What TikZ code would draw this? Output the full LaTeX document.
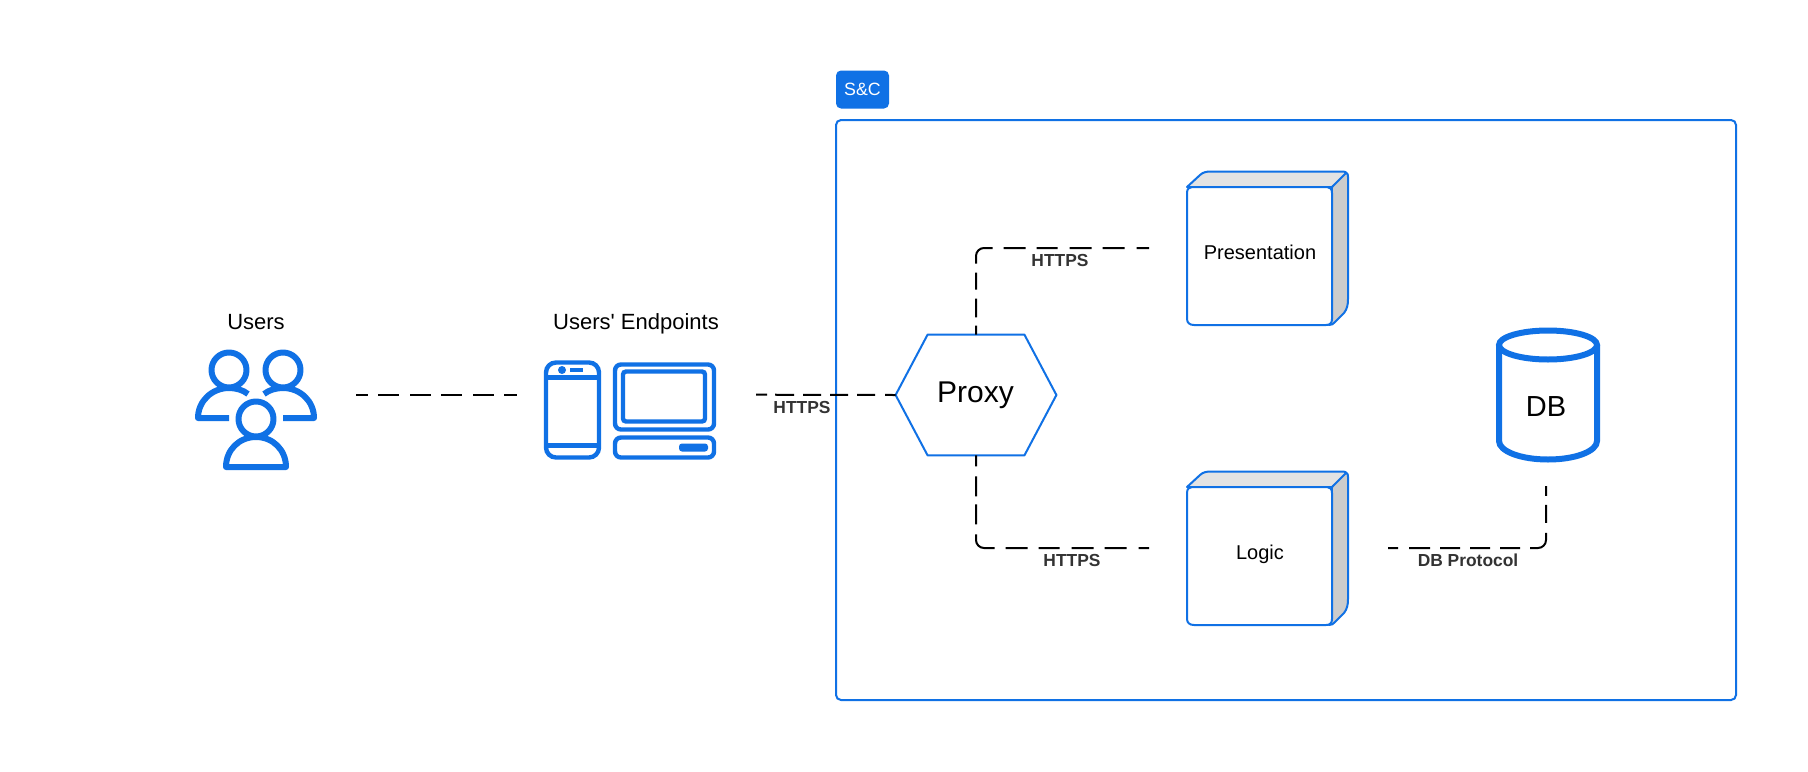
\documentclass[tikz,border=0pt]{standalone}
\usepackage{fontspec}
\setmainfont{Liberation Sans}[Ligatures=TeXOff]
\usetikzlibrary{calc}
\definecolor{lucid}{HTML}{1071E5}
\definecolor{labelgrey}{HTML}{333333}
\definecolor{topface}{HTML}{E3E3E3}
\definecolor{sideface}{HTML}{CCCCCC}
\tikzset{
  bluethin/.style={draw=lucid,line width=1pt,line join=round},
  iconline/.style={draw=lucid,line width=3pt,line join=round},
  devline/.style={draw=lucid,line width=2.2pt,rounded corners=3pt},
  conn/.style={draw=black,line width=1pt,rounded corners=4pt},
  title/.style={inner sep=0pt,font=\fontsize{11}{13}\selectfont},
  plain/.style={inner sep=0pt,font=\fontsize{10}{12}\selectfont},
  wire/.style={inner sep=0pt,text=labelgrey,font=\bfseries\fontsize{8.7}{10}\selectfont},
}
\newcommand{\cubebox}[5]{%
  \begin{scope}[shift={(#2,#3)}]
    \path[fill=topface,bluethin] (0,16) -- (13,4) .. controls (16,1) and (20,0.5) .. (24,0.5) -- (155,0.5) .. controls (159,0.5) and (161,2) .. (159,5) -- (145,16) -- cycle;
    \path[fill=sideface,bluethin] (145,16) -- (158,3) .. controls (160,1) and (161,3) .. (161,6) -- (161,128) .. controls (161,134) and (160,138) .. (157,142) -- (148,151) .. controls (146,153) and (145,154) .. (142,154) -- cycle;
    \path[fill=white,bluethin] (0,22) .. controls (0,18) and (2,16) .. (5,16) -- (140,16) .. controls (143,16) and (145,18) .. (145,22) -- (145,148) .. controls (145,152) and (143,154) .. (139,154) -- (7,154) .. controls (3,154) and (0,152) .. (0,148) -- cycle;
    \node[plain] (#1) at (73,#5) {#4};
  \end{scope}}
\begin{document}
\begin{tikzpicture}[x=0.5pt,y=-0.5pt]
\useasboundingbox (0,0) rectangle (1808,771);
\fill[white] (0,0) rectangle (1808,771);

% container
\node[draw=lucid,line width=1pt,rounded corners=2.5pt,minimum width=450pt,minimum height=290pt,inner sep=0pt] (container) at (1286,410) {};
\node[fill=lucid,rounded corners=2.5pt,minimum width=26.5pt,minimum height=19pt,inner sep=0pt,text=white,font=\fontsize{8.9}{10}\selectfont] (badge) at (862.5,89.5) {S\&C};

% users icon
\node[title] (users) at (256,322.2) {Users};
\draw[iconline] (229,370) circle[radius=17.5];
\draw[iconline] (283,370) circle[radius=17.5];
\draw[iconline] (256,419) circle[radius=17.5];
\draw[iconline] (229,418) -- (198,418) .. controls (198,401) and (212,388) .. (229,388) .. controls (236,388) and (243,390) .. (248,394);
\draw[iconline] (283,418) -- (314,418) .. controls (314,401) and (300,388) .. (283,388) .. controls (276,388) and (269,390) .. (264,394);
\draw[iconline] (226,467) .. controls (226,450) and (239,437) .. (256,437) .. controls (273,437) and (286,450) .. (286,467) -- cycle;

% endpoints icon
\node[title] (endpoints) at (636,324.2) {Users' Endpoints};
\draw[devline,rounded corners=5pt] (546,362.5) rectangle (599,457.5);
\draw[draw=lucid,line width=2.2pt] (546,377.5) -- (599,377.5);
\draw[draw=lucid,line width=2.2pt] (546,445.5) -- (599,445.5);
\fill[lucid] (562,370) circle[radius=4];
\fill[lucid] (570,368) rectangle (583,372);
\draw[devline] (615,364.5) rectangle (714,429.5);
\draw[devline,rounded corners=1.5pt] (623,371.5) rectangle (705,421.5);
\draw[devline] (615,437.5) rectangle (714,457.5);
\fill[lucid,rounded corners=1.5pt] (679,443.5) rectangle (708,451.5);

% proxy
\node[minimum width=80pt,minimum height=60pt,inner sep=0pt] (proxy) at (976,395) {};
\draw[bluethin,fill=white] (proxy.west) -- ($(proxy.north west)+(32,0)$) -- ($(proxy.north east)+(-32,0)$) -- (proxy.east) -- ($(proxy.south east)+(-32,0)$) -- ($(proxy.south west)+(32,0)$) -- cycle;
\node[inner sep=0pt,font=\fontsize{15}{18}\selectfont] (proxytext) at (975.5,395.5) {Proxy};

% boxes
\cubebox{presentation}{1187}{171}{Presentation}{81.5}
\cubebox{logic}{1187}{471}{Logic}{83.5}

% database
\draw[draw=lucid,line width=3pt,fill=white] (1499,345) -- (1499,441) .. controls (1499,451) and (1520,459.5) .. (1548,459.5) .. controls (1576,459.5) and (1597,451) .. (1597,441) -- (1597,345);
\draw[draw=lucid,line width=3pt,fill=white] (1548,345) ellipse[x radius=49,y radius=14.5];
\node[inner sep=0pt,font=\fontsize{14.5}{17}\selectfont] (db) at (1546,406.5) {DB};

% connectors
\coordinate (usersend) at (356,394.7);
\coordinate (endpointsend) at (517,394.7);
\coordinate (endpointsout) at (756,394.7);
\coordinate (presin) at (1149,248);
\coordinate (logicin) at (1149,548);
\coordinate (logicout) at (1388,548);
\coordinate (dbin) at (1546,486);
\draw[conn,dash pattern=on 6pt off 5pt on 10.5pt off 5.5pt on 10.5pt off 5pt on 10.5pt off 5.5pt on 10.5pt off 5pt on 7pt] (usersend) -- (endpointsend);
\draw[conn,dash pattern=on 5.5pt off 4pt on 9.5pt off 4.5pt on 9pt off 4.5pt on 9pt off 4.5pt on 9pt off 5pt on 6pt] (endpointsout) -- (proxy.west);
\draw[conn,dash pattern=on 4.5pt off 4.15pt on 9.35pt off 4.5pt on 8.5pt off 4.5pt on 14.3pt off 5.5pt on 11pt off 5.5pt on 10.5pt off 6pt on 11pt off 5.5pt on 11pt off 6pt on 7pt] (proxy.north) |- (presin);
\draw[conn,dash pattern=on 5.5pt off 5pt on 10pt off 4pt on 10pt off 5pt on 14.3pt off 5.5pt on 11pt off 5.5pt on 10.5pt off 6pt on 11pt off 5.5pt on 11pt off 6pt on 7pt] (proxy.south) |- (logicin);
\draw[conn,dash pattern=on 5pt off 5.5pt on 10.5pt off 5pt on 10pt off 5pt on 10pt off 5pt on 10pt off 5pt on 13.8pt off 5pt on 9pt off 4.5pt on 6pt] (logicout) -| (dbin);

% labels
\node[wire] (l1) at (802,408) {HTTPS};
\node[wire] (l2) at (1060,260.5) {HTTPS};
\node[wire] (l3) at (1072,560.5) {HTTPS};
\node[wire] (l4) at (1468,560.5) {DB Protocol};
\end{tikzpicture}
\end{document}
